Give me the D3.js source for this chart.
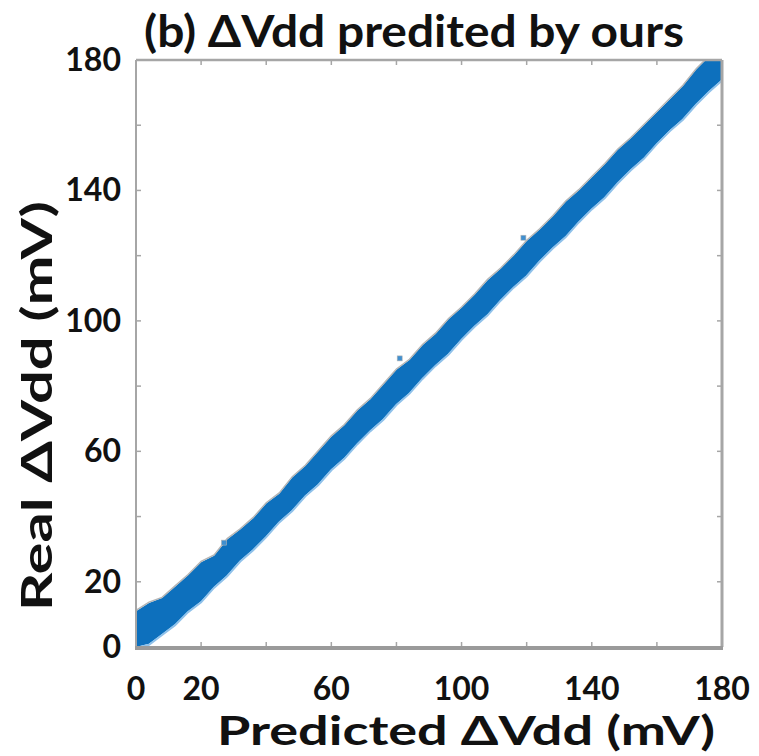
<!DOCTYPE html>
<html>
<head>
<meta charset="utf-8">
<script src="https://cdn.jsdelivr.net/npm/d3@7"></script>
<style>
  html, body { margin: 0; padding: 0; background: #fff; }
  svg { display: block; }
  text { font-family: Lato, "Open Sans", sans-serif; font-weight: 700; fill: #111; }
</style>
</head>
<body>
<svg id="chart" width="759" height="756"></svg>
<script>
// Predicted ΔVdd sample positions (mV) along the cloud
const predicted = [0,4,8,12,16,20,24,28,32,36,40,44,48,52,56,60,64,68,72,76,80,84,88,92,96,100,104,108,112,116,120,124,128,132,136,140,144,148,152,156,160,164,168,172,176,180];
// Upper and lower envelope of the real ΔVdd scatter cloud (mV)
const realUpper = [11,13.5,15,18.5,22,26,28,33,36,39.5,44,47,52,55.5,60,64.5,68,72.5,76,80.5,85,88,92.5,96,100.5,104,108,112.5,116,120,124.5,128,132,136.5,140,144,148,152.5,156,160,164,168,172,177,181,184];
const realLower = [0,1,4,7,11,14,18.5,22,26.5,30,34,38.5,42,46.5,50,54.5,58,62.5,66.5,70,74.5,78,82.5,86.5,90,94.5,98.5,102,106.5,110.5,114,118.5,122.5,126,130.5,134.5,138,142.5,146.5,150,154.5,158.5,162,166.5,170.5,174];
// A few isolated samples just off the dense band
const strayPred = [81, 27, 119];
const strayReal = [88.5, 32, 125.5];

const tickValues = [0,20,40,60,80,100,120,140,160,180];
const labelValues = [0,20,60,100,140,180];

const svg = d3.select("#chart");
const m = { left: 136, top: 60, right: 722, bottom: 647 };
const x = d3.scaleLinear().domain([0, 180]).range([m.left, m.right]);
const y = d3.scaleLinear().domain([0, 180]).range([m.bottom, m.top]);

const defs = svg.append("defs");
defs.append("clipPath").attr("id", "plotClip")
  .append("rect").attr("x", m.left).attr("y", m.top)
  .attr("width", m.right - m.left).attr("height", m.bottom - m.top);
defs.append("filter").attr("id", "soft")
  .append("feGaussianBlur").attr("stdDeviation", 0.6);

const band = predicted.map((p, i) => ({ p, lo: realLower[i], hi: realUpper[i] }));

const g = svg.append("g").attr("clip-path", "url(#plotClip)");
const cloud = g.append("g").attr("filter", "url(#soft)");

cloud.append("path")
  .datum(band)
  .attr("fill", "#0a70bd")
  .attr("d", d3.area().x(d => x(d.p)).y0(d => y(d.lo)).y1(d => y(d.hi)));

// grey rim along the upper side, pale blue fringe on the lower side
cloud.append("path").datum(band)
  .attr("fill", "none").attr("stroke", "#b5b5b5").attr("stroke-width", 1.4)
  .attr("d", d3.line().x(d => x(d.p)).y(d => y(d.hi) - 0.8));
cloud.append("path").datum(band)
  .attr("fill", "none").attr("stroke", "#8fc1ea").attr("stroke-width", 2)
  .attr("d", d3.line().x(d => x(d.p)).y(d => y(d.lo) + 1));

cloud.selectAll("rect.stray")
  .data(strayPred.map((p, i) => ({ p, r: strayReal[i] })))
  .join("rect").attr("class", "stray")
  .attr("x", d => x(d.p) - 2.5).attr("y", d => y(d.r) - 2.5)
  .attr("width", 5).attr("height", 5)
  .attr("fill", "#3f8fcf").attr("stroke", "#b5b5b5").attr("stroke-width", 0.6);

// Axes box with inward ticks on all four sides
const axisColor = "#a6a6a6";
const tickLen = 5;
const ax = svg.append("g");
const inner = tickValues.slice(1, -1);
ax.selectAll("line.tb").data(inner).join("line")
  .attr("x1", d => x(d)).attr("x2", d => x(d))
  .attr("y1", m.bottom).attr("y2", m.bottom - tickLen)
  .attr("stroke", axisColor).attr("stroke-width", 1.5);
ax.selectAll("line.tt").data(inner).join("line")
  .attr("x1", d => x(d)).attr("x2", d => x(d))
  .attr("y1", m.top).attr("y2", m.top + tickLen)
  .attr("stroke", axisColor).attr("stroke-width", 1.5);
ax.selectAll("line.tl").data(inner).join("line")
  .attr("y1", d => y(d)).attr("y2", d => y(d))
  .attr("x1", m.left).attr("x2", m.left + tickLen)
  .attr("stroke", axisColor).attr("stroke-width", 1.5);
ax.selectAll("line.tr").data(inner).join("line")
  .attr("y1", d => y(d)).attr("y2", d => y(d))
  .attr("x1", m.right).attr("x2", m.right - tickLen)
  .attr("stroke", axisColor).attr("stroke-width", 1.5);

ax.append("line").attr("x1", m.left).attr("x2", m.right).attr("y1", m.top).attr("y2", m.top)
  .attr("stroke", axisColor).attr("stroke-width", 2.5);
ax.append("line").attr("x1", m.right).attr("x2", m.right).attr("y1", m.top).attr("y2", m.bottom)
  .attr("stroke", axisColor).attr("stroke-width", 3);
ax.append("line").attr("x1", m.left).attr("x2", m.left).attr("y1", m.top).attr("y2", m.bottom)
  .attr("stroke", axisColor).attr("stroke-width", 2);
ax.append("line").attr("x1", m.left - 1).attr("x2", m.right + 1).attr("y1", m.bottom + 1).attr("y2", m.bottom + 1)
  .attr("stroke", "#9a9a9a").attr("stroke-width", 4);

// Tick labels
svg.append("g").selectAll("text").data(labelValues).join("text")
  .attr("x", d => x(d)).attr("y", 700)
  .attr("text-anchor", "middle").attr("font-size", 32)
  .text(d => d);
svg.append("g").selectAll("text").data(labelValues).join("text")
  .attr("x", 121).attr("y", d => y(d) + 11)
  .attr("text-anchor", "end").attr("font-size", 32)
  .text(d => d);

// Titles
svg.append("text").attr("x", 414).attr("y", 47)
  .attr("text-anchor", "middle").attr("font-size", 43)
  .attr("textLength", 540).attr("lengthAdjust", "spacingAndGlyphs")
  .text("(b) ΔVdd predited by ours");
svg.append("text").attr("x", 466).attr("y", 745)
  .attr("text-anchor", "middle").attr("font-size", 40)
  .attr("textLength", 498).attr("lengthAdjust", "spacingAndGlyphs")
  .text("Predicted ΔVdd (mV)");
svg.append("text")
  .attr("transform", "translate(52,406) rotate(-90)")
  .attr("text-anchor", "middle").attr("font-size", 42)
  .attr("textLength", 410).attr("lengthAdjust", "spacingAndGlyphs")
  .text("Real ΔVdd (mV)");

// edge of the neighbouring panel's label
svg.append("text").attr("x", -9).attr("y", 702)
  .attr("font-size", 31).style("fill", "#bbb").text(")");
</script>
</body>
</html>
